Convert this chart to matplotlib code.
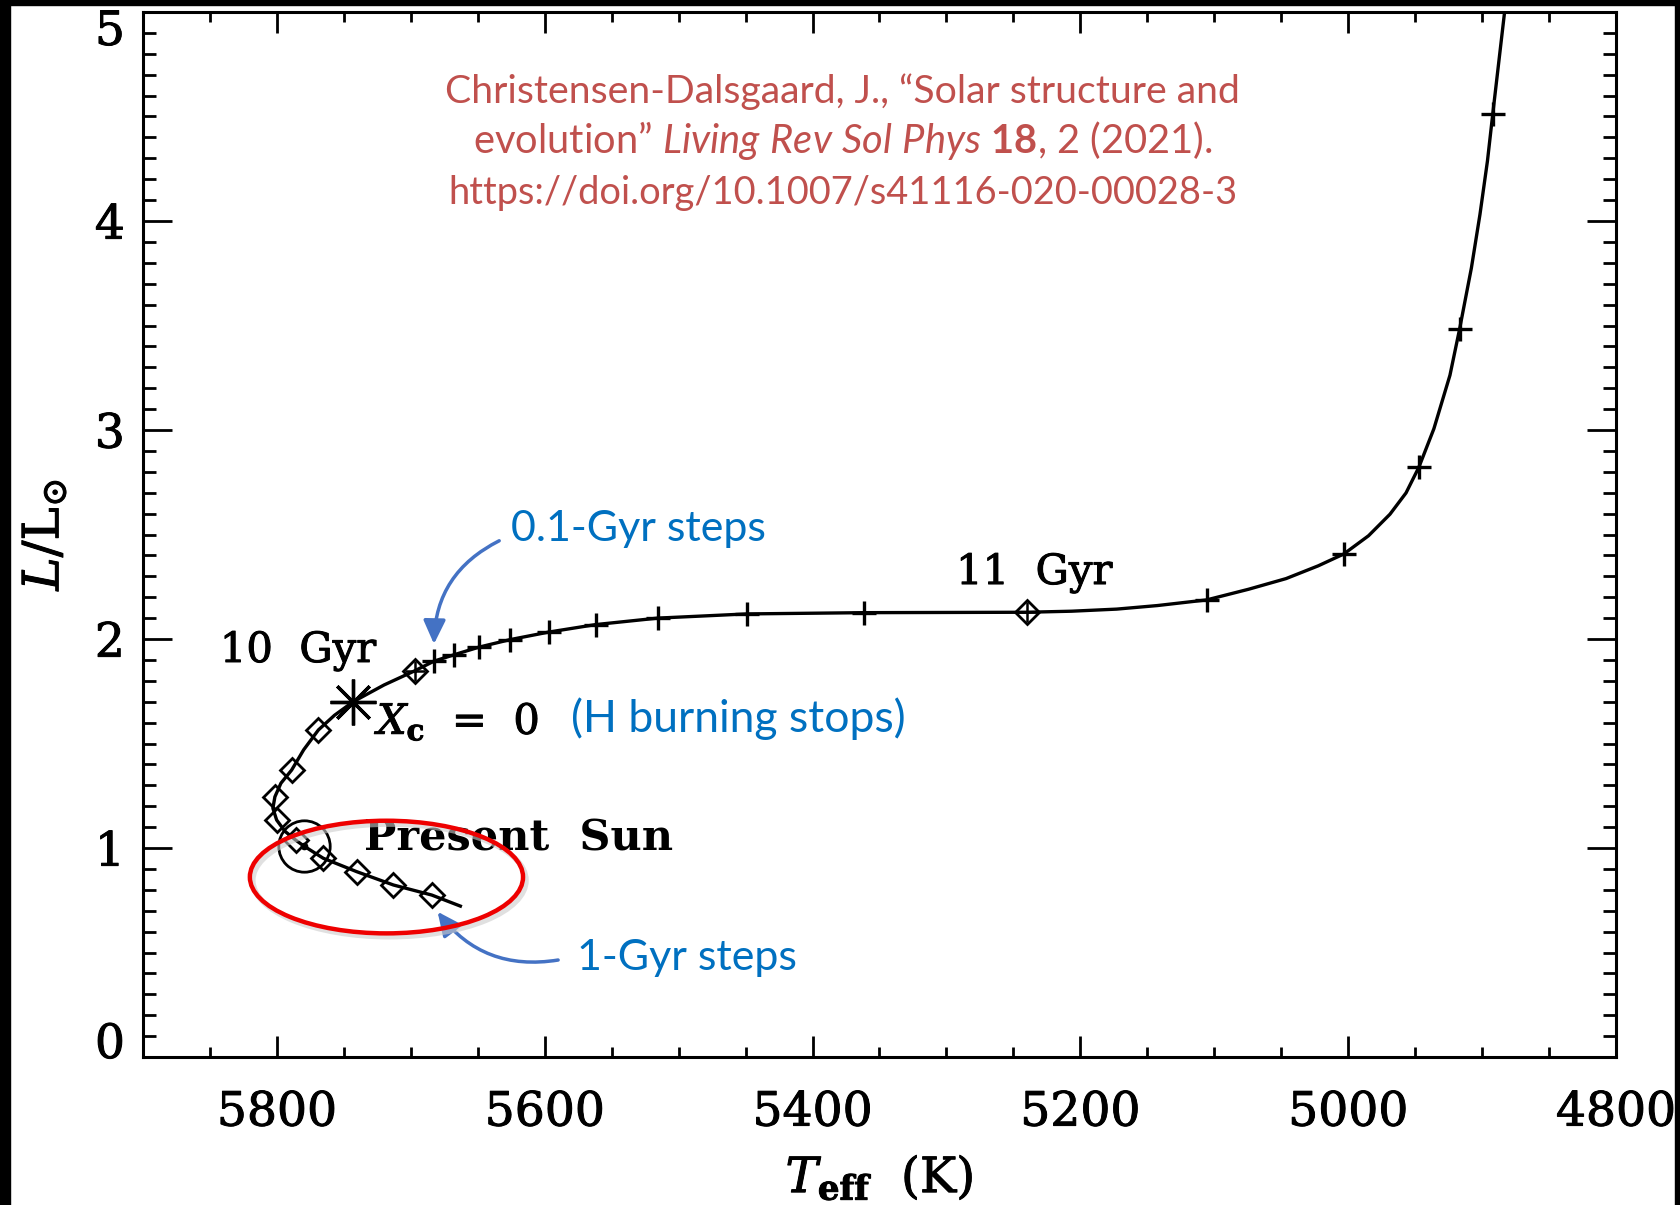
import matplotlib
matplotlib.use('Agg')
import matplotlib.pyplot as plt
import matplotlib.transforms as mtrans
import matplotlib.patheffects as pe
from matplotlib.patches import Ellipse, Rectangle
from matplotlib.ticker import MultipleLocator

plt.rcParams['font.family'] = 'DejaVu Serif'
plt.rcParams['mathtext.fontset'] = 'dejavuserif'
# 'custom' math font set, used only by the sans-serif citation
plt.rcParams['mathtext.rm'] = 'Lato'
plt.rcParams['mathtext.it'] = 'Lato:italic'
plt.rcParams['mathtext.bf'] = 'Lato:bold'

# evolutionary track of the solar model (ZAMS -> top)
track_teff = [5663, 5684.4, 5713, 5740.5, 5765.4, 5780, 5786, 5794, 5800.2, 5803,
              5801.5, 5797, 5789, 5780, 5769, 5757, 5743, 5720, 5697, 5682.7,
              5667.5, 5649.1, 5625.9, 5597.1, 5561.9, 5515.5, 5449, 5361.8, 5300,
              5240, 5206.5, 5172.9, 5142.5, 5105.7, 5074.4, 5046.4, 5022.4, 5003.2,
              4984.8, 4968.8, 4956.8, 4947.2, 4936, 4924, 4916.8, 4908, 4901.6,
              4896, 4892, 4883.2]
track_lum = [0.722, 0.775, 0.823, 0.887, 0.951, 1.01, 1.038, 1.08, 1.134, 1.19,
             1.245, 1.31, 1.373, 1.47, 1.565, 1.635, 1.70, 1.78, 1.848, 1.894,
             1.925, 1.961, 1.997, 2.033, 2.069, 2.100, 2.120, 2.126, 2.127,
             2.128, 2.133, 2.143, 2.160, 2.187, 2.238, 2.289, 2.350, 2.407,
             2.494, 2.597, 2.699, 2.822, 3.006, 3.262, 3.483, 3.775, 4.031,
             4.287, 4.514, 5.0]

# 1-Gyr steps (diamonds), 1..9 Gyr
gyr1_teff = [5684.4, 5713, 5740.5, 5765.4, 5786, 5800.2, 5801.5, 5789, 5769]
gyr1_lum = [0.775, 0.823, 0.887, 0.951, 1.038, 1.134, 1.245, 1.373, 1.565]

# 0.1-Gyr steps (plusses) after 10 Gyr
gyr01_teff = [5682.7, 5667.5, 5649.1, 5625.9, 5597.1, 5561.9, 5515.5, 5449, 5361.8,
              5105.7, 5003.2, 4947.2, 4916.8, 4892]
gyr01_lum = [1.894, 1.925, 1.961, 1.997, 2.033, 2.069, 2.100, 2.120, 2.126,
             2.187, 2.407, 2.822, 3.483, 4.514]

# 10 and 11 Gyr
age_teff = [5697, 5240]
age_lum = [1.848, 2.128]

xc0_teff, xc0_lum = 5743, 1.70     # X_c = 0
sun_teff, sun_lum = 5780, 1.01     # present Sun

xticks = [5800, 5600, 5400, 5200, 5000, 4800]
yticks = [0, 1, 2, 3, 4, 5]

W, H = 1680, 1205
fig = plt.figure(figsize=(W / 100, H / 100), dpi=100)
fig.patch.set_facecolor('white')
ax = fig.add_axes([143 / W, 1 - 1057 / H, (1616 - 143) / W, (1057 - 12) / H])

ax.plot(track_teff, track_lum, color='k', lw=2.4, solid_joinstyle='round', zorder=3)
ax.plot(gyr1_teff, gyr1_lum, ls='none', marker='D', ms=12, mfc='none', mec='k', mew=2, zorder=4)
ax.plot(gyr01_teff, gyr01_lum, ls='none', marker='+', ms=17, mec='k', mew=2.4, zorder=4)
ax.plot(age_teff, age_lum, ls='none', marker='D', ms=12, mfc='none', mec='k', mew=2, zorder=4)
ax.plot(age_teff, age_lum, ls='none', marker='+', ms=15, mec='k', mew=1.8, zorder=4)
ax.plot([xc0_teff], [xc0_lum], ls='none', marker=(8, 2, 0), ms=33, mec='k', mew=2.4, zorder=4)
ax.plot([sun_teff], [sun_lum], ls='none', marker='o', ms=37, mfc='none', mec='k', mew=2, zorder=4)
ax.plot([sun_teff], [sun_lum], ls='none', marker='o', ms=4.5, mfc='k', mec='k', zorder=4)

ax.set_xlim(5900, 4800)
ax.set_ylim(0, 5)
ax.set_xticks(xticks)
ax.set_yticks(yticks)
ax.xaxis.set_minor_locator(MultipleLocator(50))
ax.yaxis.set_minor_locator(MultipleLocator(0.1))
ax.tick_params(axis='x', which='major', direction='in', length=15, width=2,
               top=True, labelsize=34, pad=24)
ax.tick_params(axis='x', which='minor', direction='in', length=7.5, width=2, top=True)
ax.tick_params(axis='y', which='major', direction='in', length=21, width=2,
               right=True, labelsize=34, pad=13)
ax.tick_params(axis='y', which='minor', direction='in', length=9.5, width=2, right=True)
for s in ax.spines.values():
    s.set_linewidth(2.2)

heavy = [pe.withStroke(linewidth=0.7, foreground='k')]
for lab in ax.get_xticklabels() + ax.get_yticklabels():
    lab.set_path_effects(heavy)

# IDL style: end labels pushed inside the axis range
ylabs = ax.get_yticklabels()
ylabs[0].set_transform(ylabs[0].get_transform() + mtrans.ScaledTranslation(0, 12 / 72, fig.dpi_scale_trans))
ylabs[-1].set_transform(ylabs[-1].get_transform() + mtrans.ScaledTranslation(0, -11 / 72, fig.dpi_scale_trans))

ax.set_xlabel(r'$T_{\mathbf{eff}}$  (K)', fontsize=35, path_effects=heavy)
ax.xaxis.set_label_coords(0.5, -0.092)
ax.set_ylabel(r'$L/\mathrm{L}_{\odot}$', fontsize=36, path_effects=heavy)
ax.yaxis.set_label_coords(-0.050, 0.5)

# labels on the track
ax.text(5842.6, 1.89, '10  Gyr', fontsize=30, va='baseline', path_effects=heavy)
ax.text(5292.8, 2.263, '11  Gyr', fontsize=30, va='baseline', path_effects=heavy)
ax.text(5725.3, 1.545, r'$X_{\mathbf{c}}$  =  0', fontsize=30, va='baseline', path_effects=heavy)
ax.text(5735, 0.99, 'Present  Sun', fontsize=31, fontweight='bold', va='baseline')

# slide overlays
blue = '#0070C0'
ax.text(5625.2, 2.469, '0.1-Gyr steps', color=blue, family='Lato', fontsize=31, va='baseline')
ax.text(5580.4, 1.555, '(H burning stops)', color=blue, family='Lato', fontsize=32, va='baseline')
ax.text(5575.9, 0.416, '1-Gyr steps', color=blue, family='Lato', fontsize=31, va='baseline')

arrow_kw = dict(arrowstyle='-|>,head_length=0.6,head_width=0.28', color='#4472C4',
                lw=2.5, shrinkA=0, shrinkB=0, mutation_scale=24)
ax.annotate('', xy=(5682.7, 1.976), xytext=(5634, 2.47),
            arrowprops=dict(connectionstyle='arc3,rad=0.3', **arrow_kw))
ax.annotate('', xy=(5680, 0.695), xytext=(5590, 0.464),
            arrowprops=dict(connectionstyle='arc3,rad=-0.3', **arrow_kw))

ax.add_patch(Ellipse((5716, 0.845), 204, 0.539, fill=False, ec='#cccccc', lw=4, alpha=0.6, zorder=5))
ax.add_patch(Ellipse((5718.2, 0.861), 204, 0.539, fill=False, ec='#ee0000', lw=3.2, zorder=6))

red = '#C0504D'
fig.text(842.7 / W, 1 - 103 / H, 'Christensen-Dalsgaard, J., “Solar structure and',
         color=red, family='Lato', fontsize=28.3, ha='center', va='baseline')
fig.text(842.7 / W, 1 - 153 / H,
         r'evolution” $\mathit{Living\ Rev\ Sol\ Phys}$ $\mathbf{18}$, 2 (2021).',
         color=red, family='Lato', fontsize=28.7, ha='center', va='baseline',
         math_fontfamily='custom')
fig.text(842.7 / W, 1 - 204 / H, 'https://doi.org/10.1007/s41116-020-00028-3',
         color=red, family='Lato', fontsize=27.4, ha='center', va='baseline')

# black slide border
for r in [(0, 0, 10, H), (0, H - 5, W, 5), (1675, 0, 5, H)]:
    fig.add_artist(Rectangle((r[0] / W, r[1] / H), r[2] / W, r[3] / H,
                             transform=fig.transFigure, color='k', zorder=20))

fig.savefig('out.png', dpi=100)
